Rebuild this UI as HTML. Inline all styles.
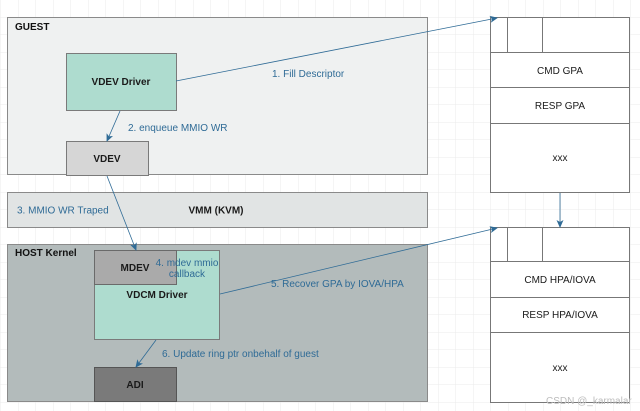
<!DOCTYPE html>
<html><head><meta charset="utf-8"><style>
html,body{margin:0;padding:0;background:#fff;}
svg{display:block;}
text{font-family:"Liberation Sans",sans-serif;font-size:10px;}
.b{fill:#1a1a1a;text-anchor:middle;}
.l{fill:#2f6b96;}
</style></head><body>
<svg width="640" height="411" viewBox="0 0 640 411" xmlns="http://www.w3.org/2000/svg">
<defs>
<pattern id="g" width="17.5" height="17.5" patternUnits="userSpaceOnUse" x="1" y="0">
<path d="M17.5 0V17.5M0 17.5H17.5" fill="none" stroke="#ebebeb" stroke-width="1"/>
</pattern>
<marker id="a" markerWidth="8" markerHeight="8" refX="7" refY="4" orient="auto" markerUnits="userSpaceOnUse">
<path d="M0,0.5 L8,4 L0,7.5 L2,4 z" fill="#2f6b96"/>
</marker>
</defs>
<rect width="640" height="411" fill="url(#g)"/>
<rect x="7.5" y="17.5" width="420" height="157" fill="#eff1f1" stroke="#8a8a8a"/>
<text x="15" y="30" style="font-weight:bold" fill="#111">GUEST</text>
<rect x="7.5" y="192.5" width="420" height="35" fill="#e1e4e4" stroke="#8a8a8a"/>
<text x="17" y="213.5" class="l">3. MMIO WR Traped</text>
<text x="216" y="213.5" class="b" style="font-weight:bold">VMM (KVM)</text>
<rect x="7.5" y="244.5" width="420" height="157" fill="#b3bbbb" stroke="#8a8a8a"/>
<text x="15" y="256" style="font-weight:bold" fill="#111">HOST Kernel</text>
<rect x="66.5" y="53.5" width="110" height="57" fill="#aedccf" stroke="#7a7a7a"/>
<text x="121" y="85" class="b" style="font-weight:bold">VDEV Driver</text>
<rect x="66.5" y="141.5" width="82" height="34" fill="#d6d6d6" stroke="#7a7a7a"/>
<text x="107" y="162" class="b" style="font-weight:bold">VDEV</text>
<rect x="94.5" y="250.5" width="125" height="89" fill="#aedccf" stroke="#7a7a7a"/>
<text x="157" y="298" class="b" style="font-weight:bold">VDCM Driver</text>
<rect x="94.5" y="250.5" width="82" height="34" fill="#aaaaaa" stroke="#6a6a6a"/>
<text x="135" y="271" class="b" style="font-weight:bold">MDEV</text>
<text x="187" y="266" class="l" text-anchor="middle">4. mdev mmio</text>
<text x="187" y="277" class="l" text-anchor="middle">callback</text>
<rect x="94.5" y="367.5" width="82" height="34" fill="#7a7a7a" stroke="#555"/>
<text x="135" y="388" class="b" style="font-weight:bold">ADI</text>
<g fill="#fff" stroke="#777">
<rect x="490.5" y="17.5" width="139" height="175"/>
<line x1="490" y1="52.5" x2="630" y2="52.5"/>
<line x1="490" y1="87.5" x2="630" y2="87.5"/>
<line x1="490" y1="123.5" x2="630" y2="123.5"/>
<line x1="507.5" y1="17" x2="507.5" y2="52"/>
<line x1="542.5" y1="17" x2="542.5" y2="52"/>
<rect x="490.5" y="227.5" width="139" height="175"/>
<line x1="490" y1="261.5" x2="630" y2="261.5"/>
<line x1="490" y1="297.5" x2="630" y2="297.5"/>
<line x1="490" y1="332.5" x2="630" y2="332.5"/>
<line x1="507.5" y1="227" x2="507.5" y2="261"/>
<line x1="542.5" y1="227" x2="542.5" y2="261"/>
</g>
<text x="560" y="74" class="b">CMD GPA</text>
<text x="560" y="109" class="b">RESP GPA</text>
<text x="560" y="161" class="b">xxx</text>
<text x="560" y="283" class="b">CMD HPA/IOVA</text>
<text x="560" y="318" class="b">RESP HPA/IOVA</text>
<text x="560" y="371" class="b">xxx</text>
<g stroke="#2f6b96" stroke-width="0.8" fill="none" marker-end="url(#a)">
<line x1="176" y1="81" x2="497" y2="18"/>
<line x1="120" y1="111" x2="107" y2="141"/>
<line x1="107" y1="176" x2="136" y2="250"/>
<line x1="220" y1="294" x2="497" y2="228"/>
<line x1="156" y1="340" x2="136" y2="367"/>
<line x1="560" y1="193" x2="560" y2="227"/>
</g>
<text x="272" y="77" class="l">1. Fill Descriptor</text>
<text x="128" y="131" class="l">2. enqueue MMIO WR</text>
<text x="271" y="287" class="l">5. Recover GPA by IOVA/HPA</text>
<text x="162" y="357" class="l">6. Update ring ptr onbehalf of guest</text>
<text x="546" y="404" fill="#bdbdbd" style="font-size:10px">CSDN @_karmalar</text>
</svg>
</body></html>
